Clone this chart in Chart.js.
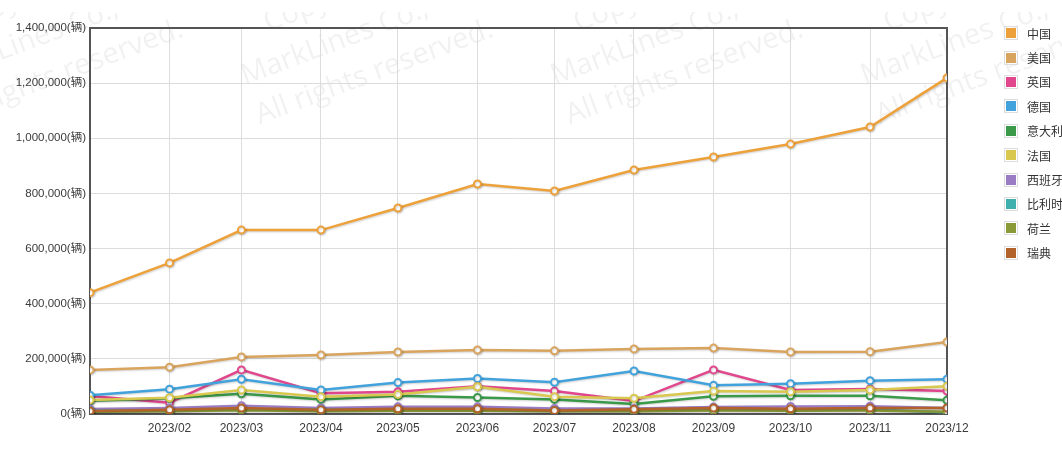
<!DOCTYPE html>
<html>
<head>
<meta charset="utf-8">
<script src="https://cdn.jsdelivr.net/npm/chart.js@4/dist/chart.umd.min.js"></script>
<style>
  html, body { margin: 0; padding: 0; background: #fff; overflow: hidden; }
  #wrap { position: relative; width: 1062px; height: 449px; }
  #legend { position: absolute; left: 1004px; top: 21px; margin: 0; padding: 0; list-style: none;
            font: 12px "Liberation Sans", "Noto Sans CJK SC", sans-serif; color: #333; white-space: nowrap; }
  #legend li { height: 24.4px; display: flex; align-items: center; }
  #legend .sw { width: 10px; height: 10px; border: 1px solid #ddd; padding: 1px; margin-right: 9px; }
  #legend .sw i { display: block; width: 10px; height: 10px; }
</style>
</head>
<body>
<div id="wrap">
  <canvas id="chart" width="1062" height="449"></canvas>
  <ul id="legend"></ul>
</div>
<script>
const months = ['2023/01', '2023/02', '2023/03', '2023/04', '2023/05', '2023/06',
                '2023/07', '2023/08', '2023/09', '2023/10', '2023/11', '2023/12'];

const china       = [440000, 548000, 667000, 667000, 747000, 834000, 809000, 885000, 932000, 979000, 1041000, 1219000];
const usa         = [160000, 170000, 207000, 214000, 225000, 232000, 229000, 236000, 239000, 225000, 226000, 261000];
const uk          = [65000, 41000, 160000, 75000, 81000, 101000, 83000, 47000, 160000, 87000, 91000, 83000];
const germany     = [68000, 90000, 126000, 87000, 114000, 129000, 115000, 156000, 104000, 110000, 121000, 126000];
const italy       = [48000, 57000, 73000, 53000, 66000, 60000, 53000, 36000, 64000, 66000, 66000, 50000];
const france      = [51000, 59000, 87000, 63000, 71000, 99000, 63000, 57000, 83000, 81000, 87000, 101000];
const spain       = [18000, 22000, 30000, 22000, 26000, 26000, 20000, 20000, 25000, 27000, 28000, 22000];
const belgium     = [12000, 14000, 18000, 15000, 16000, 17000, 13000, 12000, 16000, 15000, 17000, 5000];
const netherlands = [8000, 10000, 14000, 10000, 12000, 12000, 10000, 10000, 13000, 12000, 13000, 8000];
const sweden      = [11000, 15000, 22000, 15000, 19000, 19000, 13000, 17000, 22000, 19000, 22000, 22000];

const seriesNames  = ['中国', '美国', '英国', '德国', '意大利', '法国', '西班牙', '比利时', '荷兰', '瑞典'];
const seriesValues = [china, usa, uk, germany, italy, france, spain, belgium, netherlands, sweden];
const seriesColors = ['#eda13a', '#d9a45e', '#e0478d', '#41a2dc', '#3a9a4a', '#d9c84f', '#9a7cc4', '#3fb0ae', '#8a9a36', '#b3622a'];

// days since Jan 1 so the x axis spaces months by their real length
const dayOf = m => {
  const [y, mo] = m.split('/').map(Number);
  return (Date.UTC(y, mo - 1, 1) - Date.UTC(2023, 0, 1)) / 86400000;
};
const monthDays = months.map(dayOf);

const datasets = seriesNames.map((name, i) => ({
  label: name,
  data: seriesValues[i].map((v, j) => ({ x: monthDays[j], y: v })),
  borderColor: seriesColors[i],
  backgroundColor: '#fff',
  pointBackgroundColor: '#fff',
  pointBorderColor: seriesColors[i],
  borderWidth: 2.5,
  pointRadius: 3.5,
  pointBorderWidth: 2,
  tension: 0,
  order: seriesNames.length - i   // later series paint over earlier ones
}));

const watermark = {
  id: 'watermark',
  beforeDraw(chart) {
    const ctx = chart.ctx;
    ctx.save();
    ctx.fillStyle = '#fff';
    ctx.fillRect(0, 0, chart.width, chart.height);
    ctx.beginPath();
    ctx.rect(0, 12, chart.width, chart.height);
    ctx.clip();
    ctx.fillStyle = 'rgba(0,0,0,0.055)';
    ctx.font = '29px "Open Sans", sans-serif';
    ctx.textAlign = 'left';
    [-65, 245, 555, 865].forEach(x0 => {
      ctx.save();
      ctx.translate(x0, 85);
      ctx.rotate(-20.6 * Math.PI / 180);
      ctx.fillText('Copyright(C)', 40, -42);
      ctx.fillText('MarkLines Co.,', 0, 0);
      ctx.fillText('All rights reserved.', 0, 42);
      ctx.restore();
    });
    ctx.restore();
  },
  beforeDatasetsDraw(chart) {
    const { ctx, chartArea: a } = chart;
    ctx.save();
    ctx.strokeStyle = '#555';
    ctx.lineWidth = 2;
    ctx.strokeRect(a.left, a.top, a.right - a.left, a.bottom - a.top);
    ctx.restore();
  },
  beforeDatasetDraw(chart) {
    const ctx = chart.ctx;
    ctx.save();
    ctx.shadowColor = 'rgba(0,0,0,0.18)';
    ctx.shadowBlur = 2;
    ctx.shadowOffsetX = 1;
    ctx.shadowOffsetY = 1;
  },
  afterDatasetDraw(chart) {
    chart.ctx.restore();
  }
};

const fontFamily = '"Liberation Sans", "Noto Sans CJK SC", sans-serif';

new Chart(document.getElementById('chart'), {
  type: 'line',
  data: { datasets },
  options: {
    responsive: false,
    animation: false,
    layout: { padding: { top: 28, right: 115, bottom: 0, left: 0 } },
    plugins: { legend: { display: false }, tooltip: { enabled: false } },
    scales: {
      x: {
        type: 'linear',
        min: monthDays[0],
        max: monthDays[monthDays.length - 1],
        afterBuildTicks: s => { s.ticks = monthDays.map(v => ({ value: v })); },
        afterFit: s => { s.height = 35; },
        grid: { color: '#dcdcdc', drawTicks: false },
        border: { display: false },
        ticks: {
          autoSkip: false, maxRotation: 0, padding: 7, color: '#3a3a3a',
          font: { family: fontFamily, size: 12 },
          callback: (v) => { const i = monthDays.indexOf(v); return i > 0 ? months[i] : ''; }
        }
      },
      y: {
        min: 0, max: 1400000,
        afterFit: s => { s.width = 90; },
        grid: { color: '#dcdcdc', drawTicks: false },
        border: { display: false },
        ticks: {
          stepSize: 200000, padding: 4, color: '#3a3a3a',
          font: { family: fontFamily, size: 11.5 },
          callback: v => v.toLocaleString('en-US') + '(辆)'
        }
      }
    }
  },
  plugins: [watermark]
});

const legend = document.getElementById('legend');
seriesNames.forEach((name, i) => {
  const li = document.createElement('li');
  li.innerHTML = '<span class="sw"><i style="background:' + seriesColors[i] + '"></i></span>' + name;
  legend.appendChild(li);
});
</script>
</body>
</html>
